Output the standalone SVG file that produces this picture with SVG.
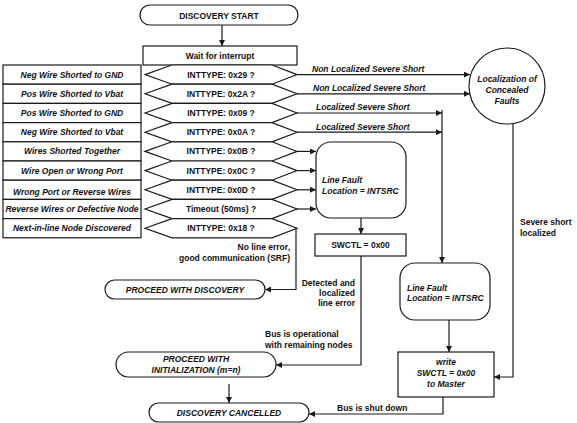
<svg xmlns="http://www.w3.org/2000/svg" width="577" height="423" viewBox="0 0 577 423">
<style>
.s{fill:#fff;stroke:#1a1a1a;stroke-width:1.2}
.l{fill:none;stroke:#1a1a1a;stroke-width:1.2}
text{font-family:"Liberation Sans",Arial,sans-serif;font-size:8.5px;font-weight:bold;fill:#111}
.i{font-style:italic}
.c{text-anchor:middle}
.r{text-anchor:end}
</style>
<defs>
<marker id="a" viewBox="0 0 10 10" refX="10" refY="5" markerWidth="7" markerHeight="6" markerUnits="userSpaceOnUse" orient="auto">
<path d="M0,0 L10,5 L0,10 z" fill="#1a1a1a"/>
</marker>
</defs>
<rect width="577" height="423" fill="#fff"/>

<g id="start"><rect class="s" x="140" y="5" width="158" height="20" rx="10"/><text class="c" x="219" y="18.5">DISCOVERY START</text></g>
<g id="wait"><rect class="s" x="143" y="46" width="154" height="19"/><text class="c" x="220" y="58.5">Wait for interrupt</text></g>

<g id="faults">
<rect class="s" x="3" y="65" width="138" height="19.2"/><text class="c i" x="72" y="77.6">Neg Wire Shorted to GND</text>
<rect class="s" x="3" y="84.2" width="138" height="19.2"/><text class="c i" x="72" y="96.8">Pos Wire Shorted to Vbat</text>
<rect class="s" x="3" y="103.4" width="138" height="19.2"/><text class="c i" x="72" y="116">Pos Wire Shorted to GND</text>
<rect class="s" x="3" y="122.6" width="138" height="19.2"/><text class="c i" x="72" y="135.2">Neg Wire Shorted to Vbat</text>
<rect class="s" x="3" y="141.8" width="138" height="19.2"/><text class="c i" x="72" y="154.4">Wires Shorted Together</text>
<rect class="s" x="3" y="161" width="138" height="19.2"/><text class="c i" x="72" y="173.6">Wire Open or Wrong Port</text>
<rect class="s" x="3" y="180.2" width="138" height="19.2"/><text class="c i" x="72" y="194.5">Wrong Port or Reverse Wires</text>
<rect class="s" x="3" y="199.4" width="138" height="19.2"/><text class="c i" x="72" y="212">Reverse Wires or Defective Node</text>
<rect class="s" x="3" y="218.6" width="138" height="19.2"/><text class="c i" x="72" y="231.2">Next-in-line Node Discovered</text>
</g>

<g id="decisions">
<polygon class="s" points="145,74.6 172,65 272,65 297,74.6 272,84.2 172,84.2"/><text class="c" x="221" y="77.6">INTTYPE: 0x29 ?</text>
<polygon class="s" points="145,93.8 172,84.2 272,84.2 297,93.8 272,103.4 172,103.4"/><text class="c" x="221" y="96.8">INTTYPE: 0x2A ?</text>
<polygon class="s" points="145,113 172,103.4 272,103.4 297,113 272,122.6 172,122.6"/><text class="c" x="221" y="116">INTTYPE: 0x09 ?</text>
<polygon class="s" points="145,132.2 172,122.6 272,122.6 297,132.2 272,141.8 172,141.8"/><text class="c" x="221" y="135.2">INTTYPE: 0x0A ?</text>
<polygon class="s" points="145,151.4 172,141.8 272,141.8 297,151.4 272,161 172,161"/><text class="c" x="221" y="154.4">INTTYPE: 0x0B ?</text>
<polygon class="s" points="145,170.6 172,161 272,161 297,170.6 272,180.2 172,180.2"/><text class="c" x="221" y="173.6">INTTYPE: 0x0C ?</text>
<polygon class="s" points="145,189.8 172,180.2 272,180.2 297,189.8 272,199.4 172,199.4"/><text class="c" x="221" y="192.8">INTTYPE: 0x0D ?</text>
<polygon class="s" points="145,209 172,199.4 272,199.4 297,209 272,218.6 172,218.6"/><text class="c" x="221" y="212">Timeout (50ms) ?</text>
<polygon class="s" points="145,228.2 172,218.6 272,218.6 297,228.2 272,237.8 172,237.8"/><text class="c" x="221" y="231.2">INTTYPE: 0x18 ?</text>
</g>

<g id="concealed"><circle class="s" cx="507" cy="86" r="38"/>
<text class="c i" x="507" y="82">Localization of</text><text class="c i" x="507" y="93">Concealed</text><text class="c i" x="507" y="104">Faults</text></g>

<g id="linefault1"><rect class="s" x="316" y="142" width="90" height="76" rx="15"/>
<text class="i" x="322" y="183">Line Fault</text><text class="i" x="322" y="194">Location = INTSRC</text></g>
<g id="swctl"><rect class="s" x="315" y="234" width="91" height="22"/><text class="c" x="360.5" y="248">SWCTL = 0x00</text></g>

<g id="linefault2"><rect class="s" x="400" y="263" width="90" height="57" rx="15"/>
<text class="i" x="407" y="291">Line Fault</text><text class="i" x="407" y="301">Location = INTSRC</text></g>
<g id="write"><rect class="s" x="398" y="352" width="96" height="45"/>
<text class="c i" x="446" y="365">write</text><text class="c i" x="446" y="376">SWCTL = 0x00</text><text class="c i" x="446" y="387">to Master</text></g>

<g id="proceed"><rect class="s" x="105" y="280" width="160" height="19" rx="9.5"/><text class="c i" x="185" y="292.8">PROCEED WITH DISCOVERY</text></g>
<g id="init"><rect class="s" x="116" y="352" width="160" height="25" rx="12.5"/>
<text class="c i" x="196" y="362">PROCEED WITH</text><text class="c i" x="196" y="372.5">INITIALIZATION (m=n)</text></g>
<g id="cancelled"><rect class="s" x="149" y="403" width="160" height="19" rx="9.5"/><text class="c i" x="229" y="415.8">DISCOVERY CANCELLED</text></g>

<g id="connectors">
<line class="l" x1="222" y1="25" x2="222" y2="46" marker-end="url(#a)"/>
<line class="l" x1="297" y1="74.6" x2="470" y2="74.6" marker-end="url(#a)"/>
<line class="l" x1="297" y1="93.8" x2="470" y2="93.8" marker-end="url(#a)"/>
<line class="l" x1="297" y1="113" x2="442" y2="113" marker-end="url(#a)"/>
<line class="l" x1="297" y1="132.2" x2="442" y2="132.2" marker-end="url(#a)"/>
<line class="l" x1="442" y1="110" x2="442" y2="263" marker-end="url(#a)"/>
<line class="l" x1="297" y1="151.4" x2="316" y2="151.4" marker-end="url(#a)"/>
<line class="l" x1="297" y1="170.6" x2="316" y2="170.6" marker-end="url(#a)"/>
<line class="l" x1="297" y1="189.8" x2="316" y2="189.8" marker-end="url(#a)"/>
<line class="l" x1="297" y1="209" x2="316" y2="209" marker-end="url(#a)"/>
<polyline class="l" points="296,228.2 296,289.5 265,289.5" marker-end="url(#a)"/>
<line class="l" x1="361" y1="218" x2="361" y2="234" marker-end="url(#a)"/>
<polyline class="l" points="361,256 361,365 276,365" marker-end="url(#a)"/>
<polyline class="l" points="513,123.5 513,377 494,377" marker-end="url(#a)"/>
<line class="l" x1="449" y1="320" x2="449" y2="352" marker-end="url(#a)"/>
<line class="l" x1="229" y1="384" x2="229" y2="403" marker-end="url(#a)"/>
<polyline class="l" points="443,397 443,414 309,414" marker-end="url(#a)"/>
</g>

<g id="labels">
<text class="i" x="312" y="71.5">Non Localized Severe Short</text>
<text class="i" x="313" y="90.5">Non Localized Severe Short</text>
<text class="i" x="316" y="109.5">Localized Severe Short</text>
<text class="i" x="316" y="129.5">Localized Severe Short</text>
<text class="r" x="290" y="250">No line error,</text>
<text class="r" x="290" y="260.5">good communication (SRF)</text>
<text class="r" x="355" y="286">Detected and</text>
<text class="r" x="355" y="296">localized</text>
<text class="r" x="355" y="306">line error</text>
<text x="265" y="337">Bus is operational</text>
<text x="265" y="347.5">with remaining nodes</text>
<text x="520" y="225">Severe short</text>
<text x="520" y="235.5">localized</text>
<text x="337" y="411">Bus is shut down</text>
</g>
</svg>
